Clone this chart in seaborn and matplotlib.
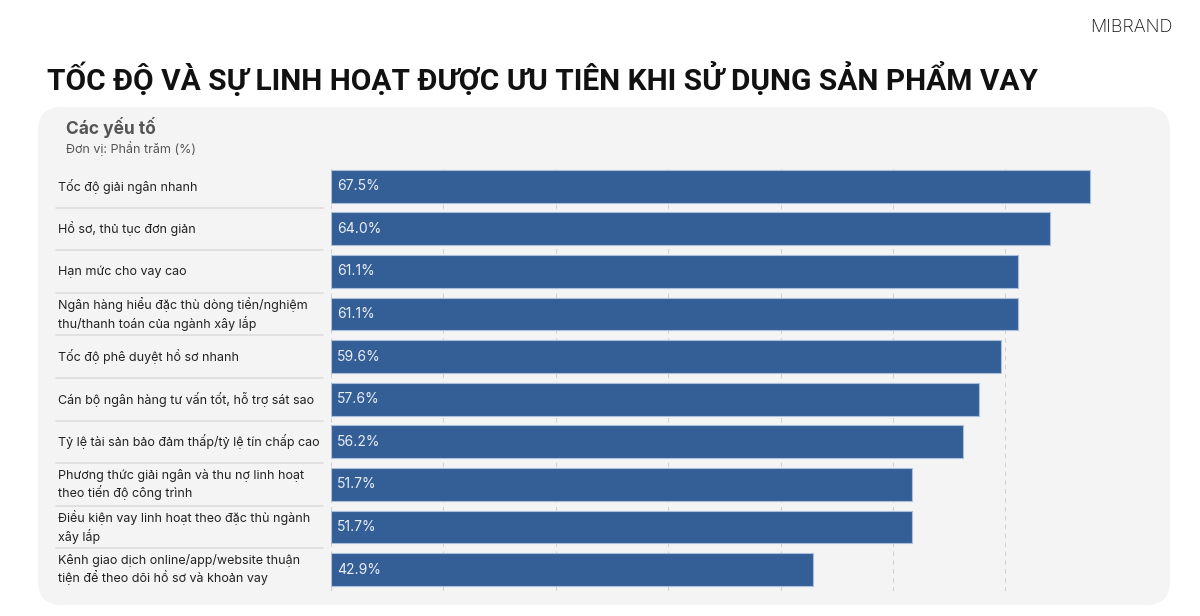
import numpy as np
import pandas as pd
import matplotlib.pyplot as plt
import seaborn as sns
from matplotlib.patches import FancyBboxPatch
from matplotlib.transforms import blended_transform_factory, IdentityTransform

# data
categories = [
    "Tốc độ giải ngân nhanh",
    "Hồ sơ, thủ tục đơn giản",
    "Hạn mức cho vay cao",
    "Ngân hàng hiểu đặc thù dòng tiền/nghiệm\nthu/thanh toán của ngành xây lắp",
    "Tốc độ phê duyệt hồ sơ nhanh",
    "Cán bộ ngân hàng tư vấn tốt, hỗ trợ sát sao",
    "Tỷ lệ tài sản bảo đảm thấp/tỷ lệ tín chấp cao",
    "Phương thức giải ngân và thu nợ linh hoạt\ntheo tiến độ công trình",
    "Điều kiện vay linh hoạt theo đặc thù ngành\nxây lắp",
    "Kênh giao dịch online/app/website thuận\ntiện để theo dõi hồ sơ và khoản vay",
]
values = [67.5, 64.0, 61.1, 61.1, 59.6, 57.6, 56.2, 51.7, 51.7, 42.9]
grid_ticks = [0, 10, 20, 30, 40, 50, 60, 70]

df = pd.DataFrame({"cat": categories, "val": values})

sns.set_theme(style="white")
plt.rcParams["font.family"] = ["Inter", "DejaVu Sans"]

fig = plt.figure(figsize=(12, 6.16), dpi=100)
fig.patch.set_facecolor("white")

# rounded grey panel (pixel coords)
panel = FancyBboxPatch((38, 11), 1132, 498, boxstyle="round,pad=0,rounding_size=24",
                       transform=IdentityTransform(), facecolor="#f4f4f4",
                       edgecolor="none", zorder=-5)
fig.patches.append(panel)

ax = fig.add_axes([0.2758, 0.0406, 0.6558, 0.6916])
ax.set_zorder(2)
ax.set_facecolor("none")

sns.barplot(data=df, x="val", y="cat", orient="h", color="#345f96", saturation=1,
            width=0.77, edgecolor="#a9bfdc", linewidth=0.8, ax=ax, zorder=3)

ax.set_xlim(0, 70)
ax.set_ylim(len(categories) - 0.5, -0.5)
for t in grid_ticks:
    ax.axvline(t, color="#d2d2d2", linestyle=(0, (4, 4)), linewidth=0.8, zorder=1)
for s in ax.spines.values():
    s.set_visible(False)
ax.set_xticks([])
ax.set_yticks([])
ax.set_xlabel("")
ax.set_ylabel("")

# value labels inside bars
for i, v in enumerate(values):
    ax.text(0.55, i, f"{v:.1f}%", va="center", ha="left", fontsize=10,
            color="#e9eef6", zorder=4)

# category labels and separators on the left
tr = blended_transform_factory(fig.transFigure, ax.transData)
for i, c in enumerate(categories):
    ax.text(58 / 1200, i, c, transform=tr, va="center", ha="left",
            fontsize=9, color="#222222", linespacing=1.3)
for i in range(len(categories) - 1):
    ax.plot([56 / 1200, 323 / 1200], [i + 0.5, i + 0.5], transform=tr,
            color="#dcdcdc", linewidth=1.2, clip_on=False)

# headings
fig.text(47 / 1200, 1 - 78 / 616, "TỐC ĐỘ VÀ SỰ LINH HOẠT ĐƯỢC ƯU TIÊN KHI SỬ DỤNG SẢN PHẨM VAY",
         fontsize=21.5, fontweight="bold", color="#111111", va="center", ha="left",
         family=["Roboto", "DejaVu Sans"])
fig.text(66 / 1200, 1 - 127 / 616, "Các yếu tố", fontsize=12.5, fontweight="bold",
         color="#555555", va="center", ha="left")
fig.text(66 / 1200, 1 - 148 / 616, "Đơn vị: Phần trăm (%)", fontsize=9,
         color="#555555", va="center", ha="left")
fig.text(1173 / 1200, 1 - 28 / 616, "MIBRAND", fontsize=13, fontweight="light",
         color="#111111", va="center", ha="right")

fig.savefig("out.png", dpi=100)
